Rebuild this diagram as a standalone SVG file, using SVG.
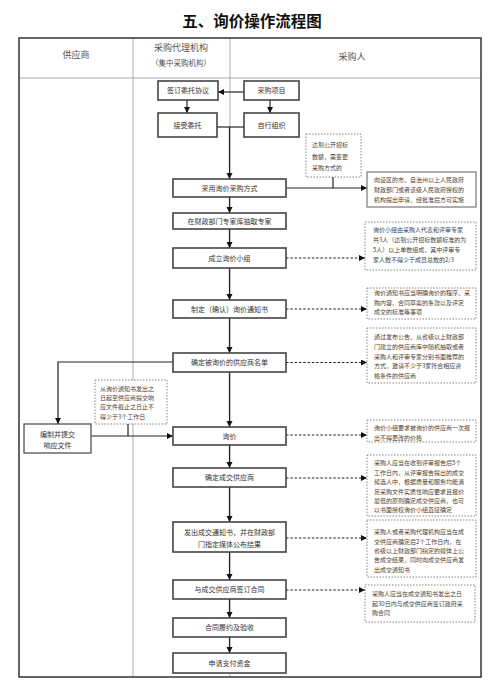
<svg xmlns="http://www.w3.org/2000/svg" width="500" height="698" viewBox="0 0 500 698">
<defs>
<marker id="arr" markerUnits="userSpaceOnUse" markerWidth="7" markerHeight="7" refX="6" refY="3" orient="auto"><path d="M0,0 L6,3 L0,6 z" fill="#111"/></marker>
<style>
text{font-family:"Noto Sans CJK SC","Noto Sans",sans-serif;fill:#333}
.title{font-size:15.5px;font-weight:bold;fill:#111}
.hd{font-size:9px;fill:#555}
.bx{fill:#fff;stroke:#444;stroke-width:1.6}
.bt{font-size:7px;text-anchor:middle}
.nt{fill:#fff;stroke:#777;stroke-width:0.9;stroke-dasharray:1.5 1.5}
.ns{fill:#fff;stroke:#777;stroke-width:1.2}
.nx{font-size:6px;fill:#444}
.ln{fill:none;stroke:#222;stroke-width:1.2}
.da{fill:none;stroke:#222;stroke-width:1.1;stroke-dasharray:2.5 1.8}
.grid{fill:none;stroke:#999;stroke-width:0.8}
</style>
</defs>
<rect width="500" height="698" fill="#fff"/>
<text class="title" x="252" y="27" text-anchor="middle">五、询价操作流程图</text>
<g id="table">
<line class="grid" x1="133" y1="38" x2="133" y2="677"/>
<line class="grid" x1="230" y1="38" x2="230" y2="677"/>
<line class="grid" x1="19" y1="78" x2="481" y2="78"/>
<rect x="19" y="38" width="462" height="639" fill="none" stroke="#333" stroke-width="1.5"/>
<text class="hd" x="76" y="58" text-anchor="middle">供应商</text>
<text class="hd" x="181" y="51" text-anchor="middle">采购代理机构</text>
<text class="hd" x="181" y="66" text-anchor="middle" style="font-size:7.5px">（集中采购机构）</text>
<text class="hd" x="352" y="60" text-anchor="middle">采购人</text>
</g>
<g id="connectors">
<line class="ln" x1="244" y1="92" x2="218" y2="92" marker-end="url(#arr)"/>
<line class="ln" x1="187" y1="100" x2="187" y2="113" marker-end="url(#arr)"/>
<line class="ln" x1="270" y1="100" x2="270" y2="113" marker-end="url(#arr)"/>
<line class="ln" x1="217" y1="127" x2="244" y2="127"/>
<line class="ln" x1="229.5" y1="127" x2="229.5" y2="179" marker-end="url(#arr)"/>
<line class="ln" x1="286" y1="188" x2="367" y2="188" marker-end="url(#arr)"/>
<line class="ln" x1="333" y1="177" x2="333" y2="188"/>
<line class="ln" x1="229.5" y1="197" x2="229.5" y2="213" marker-end="url(#arr)"/>
<line class="ln" x1="229.5" y1="229" x2="229.5" y2="248" marker-end="url(#arr)"/>
<line class="ln" x1="229.5" y1="268" x2="229.5" y2="300" marker-end="url(#arr)"/>
<line class="ln" x1="229.5" y1="318" x2="229.5" y2="353" marker-end="url(#arr)"/>
<line class="ln" x1="229.5" y1="372" x2="229.5" y2="427" marker-end="url(#arr)"/>
<line class="ln" x1="229.5" y1="445" x2="229.5" y2="468" marker-end="url(#arr)"/>
<line class="ln" x1="229.5" y1="487" x2="229.5" y2="522" marker-end="url(#arr)"/>
<line class="ln" x1="229.5" y1="552" x2="229.5" y2="580" marker-end="url(#arr)"/>
<line class="ln" x1="229.5" y1="599" x2="229.5" y2="618" marker-end="url(#arr)"/>
<line class="ln" x1="229.5" y1="637" x2="229.5" y2="653" marker-end="url(#arr)"/>
<line class="da" x1="286" y1="258" x2="365" y2="258" marker-end="url(#arr)"/>
<line class="da" x1="286" y1="309" x2="367" y2="309" marker-end="url(#arr)"/>
<line class="da" x1="286" y1="362.5" x2="367" y2="362.5" marker-end="url(#arr)"/>
<line class="da" x1="286" y1="435" x2="367" y2="435" marker-end="url(#arr)"/>
<line class="da" x1="286" y1="478" x2="367" y2="478" marker-end="url(#arr)"/>
<line class="da" x1="286" y1="538" x2="367" y2="538" marker-end="url(#arr)"/>
<line class="da" x1="286" y1="590" x2="365" y2="590" marker-end="url(#arr)"/>
<polyline class="ln" points="173,362 58,362 58,424" marker-end="url(#arr)"/>
<line class="ln" x1="91" y1="436" x2="173" y2="436" marker-end="url(#arr)"/>
<line class="ln" x1="128" y1="424" x2="128" y2="436"/>
</g>
<g id="n-qianding"><rect class="bx" x="158" y="81" width="60" height="19"/><text class="bt" x="188" y="93">签订委托协议</text></g>
<g id="n-xiangmu"><rect class="bx" x="244" y="81" width="55" height="19"/><text class="bt" x="271.5" y="93">采购项目</text></g>
<g id="n-jieshou"><rect class="bx" x="158" y="113" width="59" height="24"/><text class="bt" x="187.5" y="127.5">接受委托</text></g>
<g id="n-zixing"><rect class="bx" x="244" y="113" width="55" height="24"/><text class="bt" x="271.5" y="127.5">自行组织</text></g>
<g id="n-note0"><rect class="nt" x="306" y="134" width="55" height="43"/>
<text class="nx" x="312" y="147">达到公开招标</text><text class="nx" x="312" y="159">数额，需变更</text><text class="nx" x="312" y="170">采购方式的</text></g>
<g id="n-caiyong"><rect class="bx" x="173" y="179" width="113" height="18"/><text class="bt" x="229.5" y="190.5">采用询价采购方式</text></g>
<g id="n-note1"><rect class="ns" x="367" y="172" width="109" height="35"/>
<text class="nx" x="374" y="182">向设区的市、自治州以上人民政府</text><text class="nx" x="374" y="192">财政部门或者该级人民政府授权的</text><text class="nx" x="374" y="202">机构提出申请，经批准后方可实施</text></g>
<g id="n-zhuanjia"><rect class="bx" x="173" y="213" width="113" height="16"/><text class="bt" x="229.5" y="223.5">在财政部门专家库抽取专家</text></g>
<g id="n-xiaozu"><rect class="bx" x="173" y="248" width="113" height="20"/><text class="bt" x="229.5" y="260.5">成立询价小组</text></g>
<g id="n-note2"><rect class="nt" x="365" y="222" width="111" height="48"/>
<text class="nx" x="373" y="232">询价小组由采购人代表和评审专家</text><text class="nx" x="373" y="242">共3人（达到公开招标数额标准的为</text><text class="nx" x="373" y="252">5人）以上单数组成，其中评审专</text><text class="nx" x="373" y="262">家人数不得少于成员总数的2/3</text></g>
<g id="n-tongzhi"><rect class="bx" x="173" y="300" width="113" height="18"/><text class="bt" x="229.5" y="311.5">制定（确认）询价通知书</text></g>
<g id="n-note3"><rect class="nt" x="367" y="288" width="109" height="31"/>
<text class="nx" x="374" y="295">询价通知书应当明确询价的程序、采</text><text class="nx" x="374" y="305">购内容、合同草案的条款以及评定</text><text class="nx" x="374" y="314">成交的标准等事项</text></g>
<g id="n-mingdan"><rect class="bx" x="173" y="353" width="113" height="19"/><text class="bt" x="229.5" y="365">确定被询价的供应商名单</text></g>
<g id="n-note4"><rect class="nt" x="367" y="328" width="109" height="55"/>
<text class="nx" x="374" y="339">通过发布公告、从省级以上财政部</text><text class="nx" x="374" y="349">门建立的供应商库中随机抽取或者</text><text class="nx" x="374" y="359">采购人和评审专家分别书面推荐的</text><text class="nx" x="374" y="368">方式，邀请不少于3家符合相应资</text><text class="nx" x="374" y="378">格条件的供应商</text></g>
<g id="n-agencynote"><rect class="nt" x="95" y="380" width="72" height="44"/>
<text class="nx" x="100" y="391">从询价通知书发出之</text><text class="nx" x="100" y="400">日起至供应商提交响</text><text class="nx" x="100" y="409">应文件截止之日止不</text><text class="nx" x="100" y="419">得少于3个工作日</text></g>
<g id="n-xiangying"><rect x="24" y="424" width="67" height="29" fill="#fff" stroke="#444" stroke-width="1.2"/>
<text class="bt" x="57.5" y="436.5">编制并提交</text><text class="bt" x="57.5" y="447.5">响应文件</text></g>
<g id="n-xunjia"><rect class="bx" x="173" y="427" width="113" height="18"/><text class="bt" x="229.5" y="438.5">询价</text></g>
<g id="n-note5"><rect class="nt" x="367" y="420" width="109" height="22"/>
<text class="nx" x="374" y="430">询价小组要求被询价的供应商一次报</text><text class="nx" x="374" y="440">出不得更改的价格</text></g>
<g id="n-chengjiao"><rect class="bx" x="173" y="468" width="113" height="19"/><text class="bt" x="229.5" y="480">确定成交供应商</text></g>
<g id="n-note6"><rect class="nt" x="367" y="455" width="109" height="61"/>
<text class="nx" x="374" y="465">采购人应当在收到评审报告后5个</text><text class="nx" x="374" y="474.5">工作日内，从评审报告提出的成交</text><text class="nx" x="374" y="484">候选人中，根据质量和服务均能满</text><text class="nx" x="374" y="493.5">足采购文件实质性响应要求且报价</text><text class="nx" x="374" y="503">最低的原则确定成交供应商，也可</text><text class="nx" x="374" y="512">以书面授权询价小组直接确定</text></g>
<g id="n-fachu"><rect class="bx" x="173" y="522" width="113" height="30"/>
<text class="bt" x="229.5" y="534.5">发出成交通知书，并在财政部</text><text class="bt" x="229.5" y="546.5">门指定媒体公布结果</text></g>
<g id="n-note7"><rect class="nt" x="367" y="520" width="109" height="57"/>
<text class="nx" x="374" y="534">采购人或者采购代理机构应当在成</text><text class="nx" x="374" y="543.5">交供应商确定后2个工作日内，在</text><text class="nx" x="374" y="553">省级以上财政部门指定的媒体上公</text><text class="nx" x="374" y="562">告成交结果，同时向成交供应商发</text><text class="nx" x="374" y="571.5">出成交通知书</text></g>
<g id="n-hetong"><rect class="bx" x="173" y="580" width="113" height="19"/><text class="bt" x="229.5" y="592">与成交供应商签订合同</text></g>
<g id="n-note8"><rect class="nt" x="365" y="585" width="110" height="37"/>
<text class="nx" x="372" y="596">采购人应当在成交通知书发出之日</text><text class="nx" x="372" y="605.5">起30日内与成交供应商签订政府采</text><text class="nx" x="372" y="615">购合同</text></g>
<g id="n-lvyue"><rect class="bx" x="173" y="618" width="113" height="19"/><text class="bt" x="229.5" y="630">合同履约及验收</text></g>
<g id="n-zhifu"><rect class="bx" x="173" y="653" width="113" height="20"/><text class="bt" x="229.5" y="665.5">申请支付资金</text></g>
</svg>
